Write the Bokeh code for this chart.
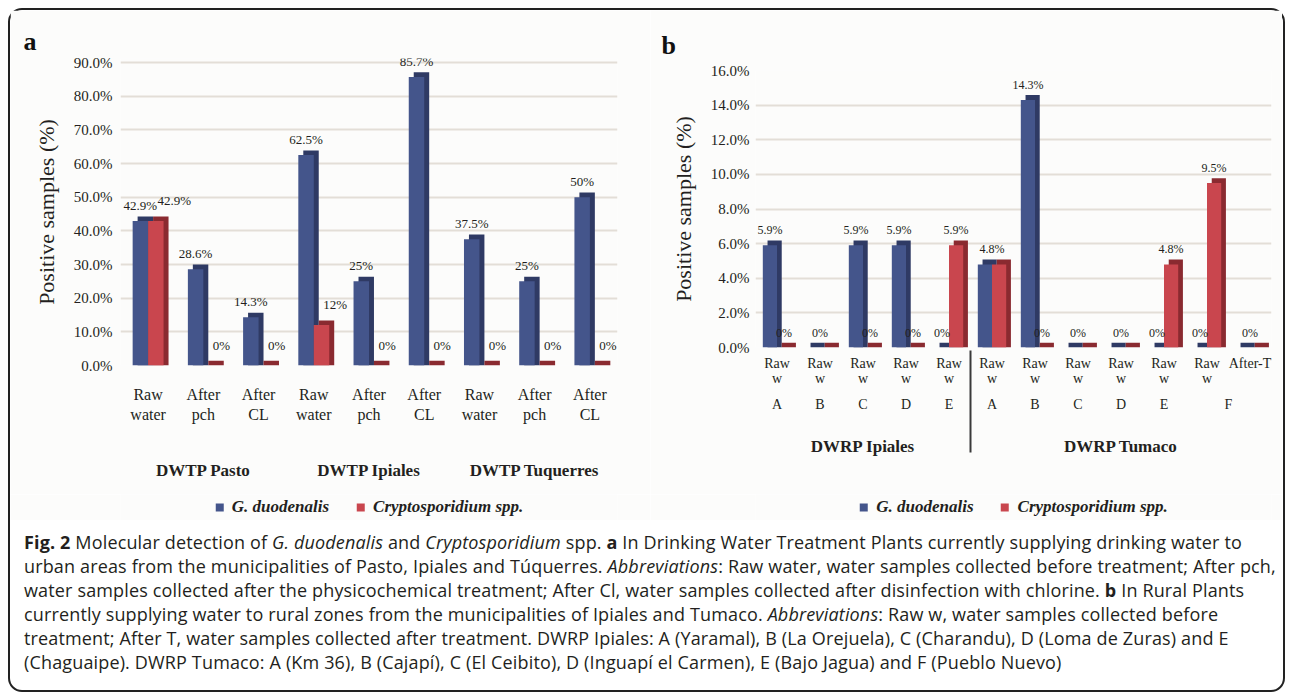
from bokeh.plotting import figure
from bokeh.models import (FactorRange, ColumnDataSource, Legend, LegendItem,
                          PrintfTickFormatter, Div, Range1d)
from bokeh.transform import dodge
from bokeh.layouts import row, column
from bokeh.embed import file_html
from bokeh.resources import INLINE

# ---------------- data ----------------
# Panel a: Drinking Water Treatment Plants
a_groups = ["DWTP Pasto", "DWTP Ipiales", "DWTP Tuquerres"]
a_samples = ["Raw\nwater", "After\npch", "After\nCL"]
a_giardia = [42.9, 28.6, 14.3, 62.5, 25, 85.7, 37.5, 25, 50]
a_crypto = [42.9, 0, 0, 12, 0, 0, 0, 0, 0]
a_yticks = [0, 10, 20, 30, 40, 50, 60, 70, 80, 90]

# Panel b: Rural plants
b_groups = ["DWRP Ipiales"] * 5 + ["DWRP Tumaco"] * 7
b_plants = ["A", "B", "C", "D", "E", "A", "B", "C", "D", "E", "F", "F"]
b_samples = ["Raw\nw"] * 11 + ["After-T"]
b_giardia = [5.9, 0, 5.9, 5.9, 0, 4.8, 14.3, 0, 0, 0, 0, 0]
b_crypto = [0, 0, 0, 0, 5.9, 4.8, 0, 0, 0, 4.8, 9.5, 0]
b_yticks = [0, 2, 4, 6, 8, 10, 12, 14, 16]

series_names = ["G. duodenalis", "Cryptosporidium spp."]

# ---------------- style ----------------
SERIF = "Liberation Serif"
BLUE, BLUE_D = "#44558b", "#2f3a64"
RED, RED_D = "#c9464e", "#8a2a30"
GRID = "#e3ded7"
BG = "#fcfcfb"
TXT = "#231f20"


def fmt(v):
    return ("%d%%" % v) if float(v).is_integer() else ("%.1f%%" % v)


def panel(letter, factors, blue, red, yticks, yend, w, h, ml, mr, mt, mb,
          bw, dx, dy, tick_fs, cat_fs, val_fs, standoff, ystandoff, title_off,
          title_standoff, merge_equal):
    xr = FactorRange(*factors, range_padding=0, group_padding=0, subgroup_padding=0)
    p = figure(x_range=xr, y_range=Range1d(0, yend), width=w, height=h,
               min_border_left=ml, min_border_right=mr, min_border_top=mt,
               min_border_bottom=mb, output_backend="svg", toolbar_location=None,
               background_fill_color=BG, border_fill_color=BG,
               outline_line_color=None)
    src = ColumnDataSource(dict(
        x=factors, blue=blue, red=red,
        blue_back=[v + dy for v in blue], red_back=[v + dy for v in red]))
    off = bw / 2.0
    p.vbar(x=dodge("x", -off + dx, range=xr), bottom=0, top="blue_back", width=bw,
           source=src, fill_color=BLUE_D, line_color=None)
    p.vbar(x=dodge("x", off + dx, range=xr), bottom=0, top="red_back", width=bw,
           source=src, fill_color=RED_D, line_color=None)
    p.vbar(x=dodge("x", -off, range=xr), top="blue", width=bw, source=src,
           fill_color=BLUE, line_color=None)
    p.vbar(x=dodge("x", off, range=xr), top="red", width=bw, source=src,
           fill_color=RED, line_color=None)

    # value labels
    bl, rl, ml_ = dict(x=[], y=[], t=[]), dict(x=[], y=[], t=[]), dict(x=[], y=[], t=[])
    for f, b, r in zip(factors, blue, red):
        if merge_equal and b == r:
            ml_["x"].append(f); ml_["y"].append(b); ml_["t"].append(fmt(b))
        else:
            bl["x"].append(f); bl["y"].append(b); bl["t"].append(fmt(b))
            rl["x"].append(f); rl["y"].append(r); rl["t"].append(fmt(r))
    common = dict(text_font=SERIF, text_font_size="%dpx" % val_fs, text_color=TXT)
    p.text(x=dodge("x", -off, range=xr), y="y", text="t", source=ColumnDataSource(bl),
           text_align="center", text_baseline="bottom", y_offset=-8, **common)
    if merge_equal:
        p.text(x=dodge("x", off, range=xr), y="y", text="t", source=ColumnDataSource(rl),
               text_align="center", text_baseline="bottom", y_offset=-8, **common)
        p.text(x="x", y="y", text="t", source=ColumnDataSource(ml_),
               text_align="center", text_baseline="bottom", y_offset=-8, **common)
    else:
        p.text(x=dodge("x", off + 0.03, range=xr), y="y", text="t",
               source=ColumnDataSource(rl), text_align="left",
               text_baseline="bottom", y_offset=-13, **common)

    # axes
    p.yaxis.ticker = yticks
    p.yaxis.formatter = PrintfTickFormatter(format="%.1f%%")
    p.yaxis.axis_label = "Positive samples (%)"
    p.yaxis.axis_label_text_font = SERIF
    p.yaxis.axis_label_text_font_size = "22px"
    p.yaxis.axis_label_text_font_style = "normal"
    p.yaxis.axis_label_text_color = TXT
    p.yaxis.axis_label_standoff = 12
    p.yaxis.major_label_text_font = SERIF
    p.yaxis.major_label_text_font_size = "%dpx" % tick_fs
    p.yaxis.major_label_text_color = TXT
    p.yaxis.axis_line_color = None
    p.yaxis.major_tick_line_color = None
    p.yaxis.minor_tick_line_color = None
    p.yaxis.major_tick_out = 0
    p.yaxis.minor_tick_out = 0
    p.yaxis.major_label_standoff = ystandoff

    ax = p.xaxis[0]
    ax.axis_line_color = None
    ax.major_tick_line_color = None
    ax.minor_tick_line_color = None
    ax.major_tick_out = 0
    ax.minor_tick_out = 0
    ax.major_label_text_font = SERIF
    ax.major_label_text_font_size = "%dpx" % cat_fs
    ax.major_label_text_color = TXT
    ax.major_label_standoff = standoff
    ax.subgroup_text_font = SERIF
    ax.subgroup_text_font_size = "%dpx" % cat_fs
    ax.subgroup_text_font_style = "normal"
    ax.subgroup_text_color = TXT
    ax.group_text_font = SERIF
    ax.group_text_font_size = "17px"
    ax.group_text_font_style = "bold"
    ax.group_text_color = TXT
    ax.separator_line_color = "#3a3a3a"
    ax.separator_line_width = 2

    p.xgrid.grid_line_color = None
    p.ygrid.grid_line_color = GRID
    p.ygrid.grid_line_width = 2

    p.title.text = letter
    p.title.text_font = SERIF
    p.title.text_font_size = "26px"
    p.title.text_font_style = "bold"
    p.title.text_color = "#111111"
    p.title.align = "left"
    p.title.offset = title_off
    p.title.standoff = title_standoff
    return p, ax, xr, src


def legend_fig(w, h, ml, xr, src):
    # legend strip drawn from the panel's own data (bars fall outside this strip's y range)
    lf = figure(width=w, height=h, x_range=xr, y_range=Range1d(-2, -1),
                min_border_left=ml, min_border_right=0, min_border_top=0,
                min_border_bottom=0, x_axis_location=None, y_axis_location=None,
                output_backend="svg", toolbar_location=None,
                background_fill_color=BG, border_fill_color=BG,
                outline_line_color=None)
    lf.xgrid.visible = False
    lf.ygrid.visible = False
    r1 = lf.vbar(x="x", top="blue", width=0.001, source=src, fill_color=BLUE, line_color=None)
    r2 = lf.vbar(x="x", top="red", width=0.001, source=src, fill_color=RED, line_color=None)
    legend = Legend(items=[LegendItem(label=series_names[0], renderers=[r1]),
                           LegendItem(label=series_names[1], renderers=[r2])],
                    orientation="horizontal", location="center",
                    label_text_font=SERIF, label_text_font_size="17px",
                    label_text_font_style="bold italic", label_text_color=TXT,
                    glyph_width=10, glyph_height=10, spacing=26, label_standoff=8,
                    border_line_color=None, background_fill_alpha=0,
                    padding=0, margin=0)
    lf.add_layout(legend)
    return lf


a_groups_lbl = ["\n" + g for g in a_groups]
a_factors = [(g, s) for g in a_groups_lbl for s in a_samples]
pa, axa, xra, srca = panel("a", a_factors, a_giardia, a_crypto, a_yticks, 91.2,
                           w=640, h=484, ml=110, mr=33, mt=48, mb=129,
                           bw=0.28, dx=0.09, dy=1.4, tick_fs=15, cat_fs=16, val_fs=13,
                           standoff=20, ystandoff=8, title_off=-97, title_standoff=6,
                           merge_equal=False)
axa.separator_line_alpha = 0
axa.group_text_line_height = 0.8

b_factors = [(g, pl, s) for g, pl, s in zip(["\n" + g for g in b_groups], b_plants, b_samples)]
pb, axb, xrb, srcb = panel("b", b_factors, b_giardia, b_crypto, b_yticks, 16.0,
                           w=632, h=484, ml=105, mr=11, mt=60, mb=147,
                           bw=0.33, dx=0.11, dy=0.28, tick_fs=15, cat_fs=14, val_fs=12,
                           standoff=8, ystandoff=6, title_off=-94, title_standoff=22,
                           merge_equal=True)
axb.group_text_line_height = 0.75
axb.major_label_text_line_height = 1.0

la = legend_fig(640, 26, 102, xra, srca)
lb = legend_fig(632, 26, 91, xrb, srcb)

caption_html = (
    "<b>Fig. 2</b> Molecular detection of <i>G. duodenalis</i> and <i>Cryptosporidium</i> spp. "
    "<b>a</b> In Drinking Water Treatment Plants currently supplying drinking water to<br>"
    "urban areas from the municipalities of Pasto, Ipiales and Túquerres. <i>Abbreviations</i>: "
    "Raw water, water samples collected before treatment; After pch,<br>"
    "water samples collected after the physicochemical treatment; After Cl, water samples "
    "collected after disinfection with chlorine. <b>b</b> In Rural Plants<br>"
    "currently supplying water to rural zones from the municipalities of Ipiales and Tumaco. "
    "<i>Abbreviations</i>: Raw w, water samples collected before<br>"
    "treatment; After T, water samples collected after treatment. DWRP Ipiales: A (Yaramal), "
    "B (La Orejuela), C (Charandu), D (Loma de Zuras) and E<br>"
    "(Chaguaipe). DWRP Tumaco: A (Km 36), B (Cajapí), C (El Ceibito), D (Inguapí el Carmen), "
    "E (Bajo Jagua) and F (Pueblo Nuevo)"
)
cap = Div(text=caption_html, width=1263, height=160,
          styles={"font-family": "Open Sans", "font-size": "18px", "color": TXT,
                  "letter-spacing": "0.15px",
                  "line-height": "24px", "white-space": "nowrap",
                  "padding-left": "9px", "padding-top": "5px"})

layout = column(row(column(pa, la), column(pb, lb)), cap,
                styles={"border": "2px solid #222", "border-radius": "14px",
                        "background-color": "#ffffff", "margin": "8px 0 0 8px"})

open("out.html", "w").write(file_html(layout, INLINE))
